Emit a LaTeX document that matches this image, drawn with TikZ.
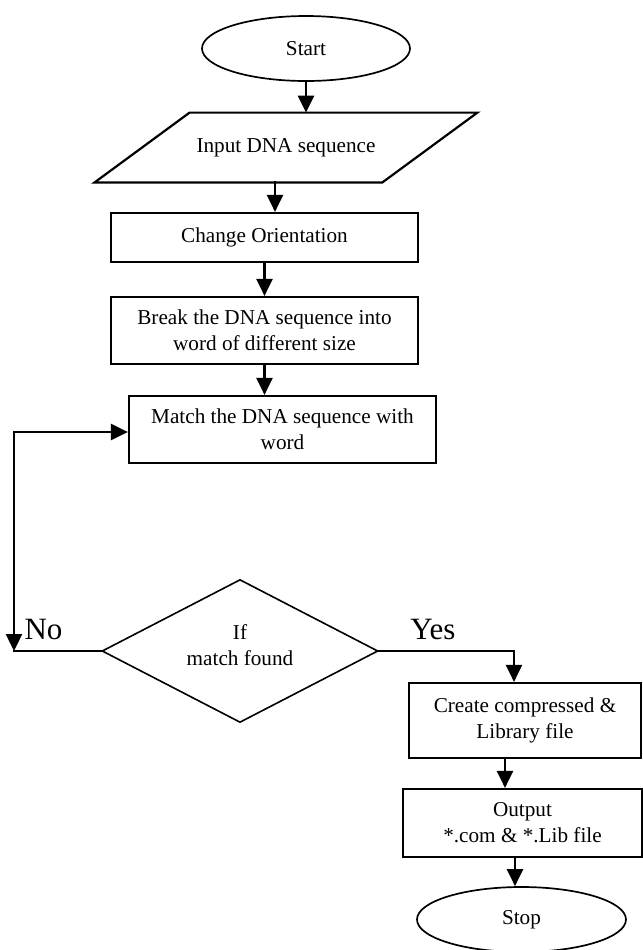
\documentclass[tikz,border=0pt]{standalone}
\usepackage{fontspec}
\setmainfont{Liberation Serif}
\usetikzlibrary{shapes.geometric,arrows.meta,calc}
\begin{document}
\begin{tikzpicture}[x=0.5pt,y=-0.5pt,
  font=\fontsize{10.6}{13}\selectfont,
  box/.style={draw,line width=1.1pt,rectangle,inner sep=0pt,align=center},
  term/.style={draw,line width=0.85pt,ellipse,inner sep=0pt,minimum width=104pt,minimum height=32.5pt},
  arr/.style={line width=1.2pt,line cap=rect,-{Triangle[length=8.5pt,width=8pt]}},
  ln/.style={line width=1.2pt,line cap=rect},
  lbl/.style={font=\fontsize{15.5}{18}\selectfont,inner sep=0pt}]
\useasboundingbox (0,0) rectangle (643,950);
\node[term] (start) at (306,48.5) {Start};
\node[inner sep=0pt,minimum width=191pt,minimum height=34.5pt] (input) at (286,147.5) {Input DNA sequence};
\draw[line width=1.1pt,line join=miter] ($(input.north west)+(95,0)$) -- (input.north east) -- ($(input.south east)-(95,0)$) -- (input.south west) -- cycle;
\node[box,minimum width=153.5pt,minimum height=24.5pt] (change) at (264.5,237.5) {Change Orientation};
\node[box,minimum width=153.5pt,minimum height=33.5pt] (break) at (264.5,330.5) {Break the DNA sequence into\\word of different size};
\node[box,minimum width=153.5pt,minimum height=33.5pt] (match) at (282.5,429.5) {Match the DNA sequence with\\word};
\node[diamond,draw,line width=0.8pt,inner sep=0pt,minimum width=138pt,minimum height=71.5pt] (dec) at (240,651) {};
\node[align=center,inner sep=0pt] (dectext) at (240,645) {If\\match found};
\node[box,minimum width=116pt,minimum height=37.5pt] (create) at (525,720.5) {Create compressed \&\\Library file};
\node[box,minimum width=119.5pt,minimum height=34pt] (output) at (522.5,823) {Output\\*.com \& *.Lib file};
\node[term,minimum width=104.5pt] (stop) at (521.5,919.5) {Stop};
\node[lbl] (no) at (43.5,629) {No};
\node[lbl] (yes) at (433,629) {Yes};
\draw[arr] (start.south) -- (start.south |- input.north);
\draw[arr] ([xshift=-5.5pt]input.south) -- ([xshift=-5.5pt]input.south |- change.north);
\draw[arr] (change.south) -- (change.south |- break.north);
\draw[arr] (break.south) -- (break.south |- match.north);
\coordinate (nocorner) at (14,651);
\coordinate (looptop) at (14,432);
\draw[ln] (dec.west) -- (nocorner);
\draw[arr] (looptop) -- (nocorner);
\draw[arr] (looptop) -- (looptop -| match.west);
\coordinate (yescorner) at (514,651);
\draw[arr] (dec.east) -- (yescorner) -- (yescorner |- create.north);
\draw[arr] ([xshift=-10pt]create.south) -- ([xshift=-10pt]create.south |- output.north);
\draw[arr] ([xshift=-3.75pt]output.south) -- ([xshift=-3.75pt]output.south |- stop.north);
\end{tikzpicture}
\end{document}
